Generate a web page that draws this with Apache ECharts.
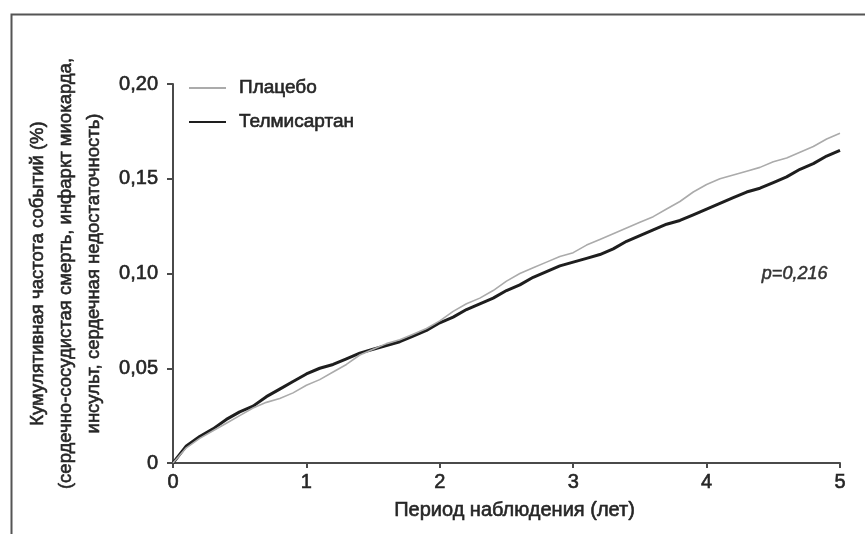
<!DOCTYPE html>
<html>
<head>
<meta charset="utf-8">
<script src="https://cdn.jsdelivr.net/npm/echarts@6/dist/echarts.min.js"></script>
<style>
  html, body { margin: 0; padding: 0; background: #fff; }
  #chart { width: 865px; height: 534px; }
</style>
</head>
<body>
<div id="chart"></div>
<script>
// follow-up time, years
const years = [
  0, 0.1, 0.2, 0.3, 0.4, 0.5, 0.6, 0.7, 0.8, 0.9,
  1.0, 1.1, 1.2, 1.3, 1.4, 1.5, 1.6, 1.7, 1.8, 1.9,
  2.0, 2.1, 2.2, 2.3, 2.4, 2.5, 2.6, 2.7, 2.8, 2.9,
  3.0, 3.1, 3.2, 3.3, 3.4, 3.5, 3.6, 3.7, 3.8, 3.9,
  4.0, 4.1, 4.2, 4.3, 4.4, 4.5, 4.6, 4.7, 4.8, 4.9, 5.0
];

const placebo = [
  0, 0.008, 0.013, 0.017, 0.021, 0.025, 0.029, 0.032, 0.034, 0.037,
  0.041, 0.044, 0.048, 0.052, 0.057, 0.060, 0.063, 0.065, 0.068, 0.071,
  0.075, 0.080, 0.084, 0.087, 0.091, 0.096, 0.100, 0.103, 0.106, 0.109,
  0.111, 0.115, 0.118, 0.121, 0.124, 0.127, 0.130, 0.134, 0.138, 0.143,
  0.147, 0.150, 0.152, 0.154, 0.156, 0.159, 0.161, 0.164, 0.167, 0.171, 0.174
];

const telmisartan = [
  0, 0.009, 0.014, 0.018, 0.023, 0.027, 0.030, 0.035, 0.039, 0.043,
  0.047, 0.050, 0.052, 0.055, 0.058, 0.060, 0.062, 0.064, 0.067, 0.070,
  0.074, 0.077, 0.081, 0.084, 0.087, 0.091, 0.094, 0.098, 0.101, 0.104,
  0.106, 0.108, 0.110, 0.113, 0.117, 0.120, 0.123, 0.126, 0.128, 0.131,
  0.134, 0.137, 0.140, 0.143, 0.145, 0.148, 0.151, 0.155, 0.158, 0.162, 0.165
];

const seriesNames = ["Плацебо", "Телмисартан"];
const xTitle = "Период наблюдения (лет)";
const yTitle = [
  "Кумулятивная частота событий (%)",
  "(сердечно-сосудистая смерть, инфаркт миокарда,",
  "инсульт, сердечная недостаточность)"
];
const pValue = "p=0,216";
const pValueAt = [4.66, 0.1];

const FONT = "'Liberation Sans', Arial, sans-serif";
const TEXT = "#262626";
const AXIS = "#4a4a4a";
// a thin outline in the text colour makes the glyphs a little heavier, like the scan
const heavy = { textBorderColor: TEXT, textBorderWidth: 0.6 };

function pairs(values) {
  return years.map((t, i) => [t, values[i]]);
}

function yLabel(v) {
  if (v === 0) return "0";
  return v.toFixed(2).replace(".", ",");
}

const chart = echarts.init(document.getElementById("chart"), null, { renderer: "canvas" });

chart.setOption({
  animation: false,
  backgroundColor: "#fff",
  textStyle: { fontFamily: FONT },
  graphic: [
    {
      type: "rect",
      left: 9,
      top: 12,
      shape: { width: 900, height: 600 },
      style: { fill: "none", stroke: "#555", lineWidth: 2 },
      silent: true
    }
  ],
  grid: { left: 173, right: 25, top: 84, bottom: 71, containLabel: false },
  legend: {
    orient: "vertical",
    left: 188,
    top: 78,
    padding: 0,
    itemWidth: 37,
    itemHeight: 14,
    itemGap: 14,
    data: seriesNames,
    // hide the marker dot, keep only the line sample
    itemStyle: { color: "rgba(0,0,0,0)", borderWidth: 0, opacity: 0 },
    textStyle: Object.assign({
      fontFamily: FONT,
      fontSize: 19,
      lineHeight: 20,
      color: TEXT,
      padding: [0, 0, 0, 8]
    }, heavy)
  },
  xAxis: {
    type: "value",
    min: 0,
    max: 5,
    interval: 1,
    name: xTitle,
    nameLocation: "middle",
    nameGap: 37,
    nameTextStyle: Object.assign({ fontFamily: FONT, fontSize: 20, color: TEXT, padding: [0, 0, 0, 16] }, heavy),
    axisLine: { show: true, lineStyle: { color: AXIS, width: 2 } },
    axisTick: { show: true, length: 5, lineStyle: { color: AXIS, width: 2 } },
    axisLabel: Object.assign({ color: TEXT, fontSize: 20, fontFamily: FONT, margin: 9 }, heavy),
    splitLine: { show: false }
  },
  yAxis: {
    type: "value",
    min: 0,
    max: 0.2,
    interval: 0.05,
    name: yTitle.join("\n"),
    nameLocation: "middle",
    nameRotate: 90,
    nameGap: 55,
    nameTextStyle: Object.assign({ fontFamily: FONT, fontSize: 18.5, lineHeight: 28, color: TEXT, align: "center" }, heavy),
    axisLine: { show: true, lineStyle: { color: AXIS, width: 2 } },
    axisTick: { show: true, length: 6, lineStyle: { color: AXIS, width: 2 } },
    axisLabel: Object.assign({ color: TEXT, fontSize: 20, fontFamily: FONT, margin: 15, formatter: yLabel }, heavy),
    splitLine: { show: false }
  },
  series: [
    {
      name: seriesNames[0],
      type: "line",
      symbol: "none",
      data: pairs(placebo),
      lineStyle: { color: "#ababab", width: 1.6 },
      itemStyle: { color: "#ababab" },
      z: 3,
      markPoint: {
        symbol: "circle",
        symbolSize: 1,
        silent: true,
        itemStyle: { color: "rgba(0,0,0,0)" },
        data: [{ coord: pValueAt, value: pValue }],
        label: {
          show: true,
          formatter: pValue,
          position: "inside",
          fontFamily: FONT,
          fontStyle: "italic",
          fontSize: 18,
          color: "#333",
          textBorderColor: "#333",
          textBorderWidth: 0.5
        }
      }
    },
    {
      name: seriesNames[1],
      type: "line",
      symbol: "none",
      data: pairs(telmisartan),
      lineStyle: { color: "#1e1e1e", width: 3 },
      itemStyle: { color: "#1e1e1e" },
      z: 2
    }
  ]
});
</script>
</body>
</html>
